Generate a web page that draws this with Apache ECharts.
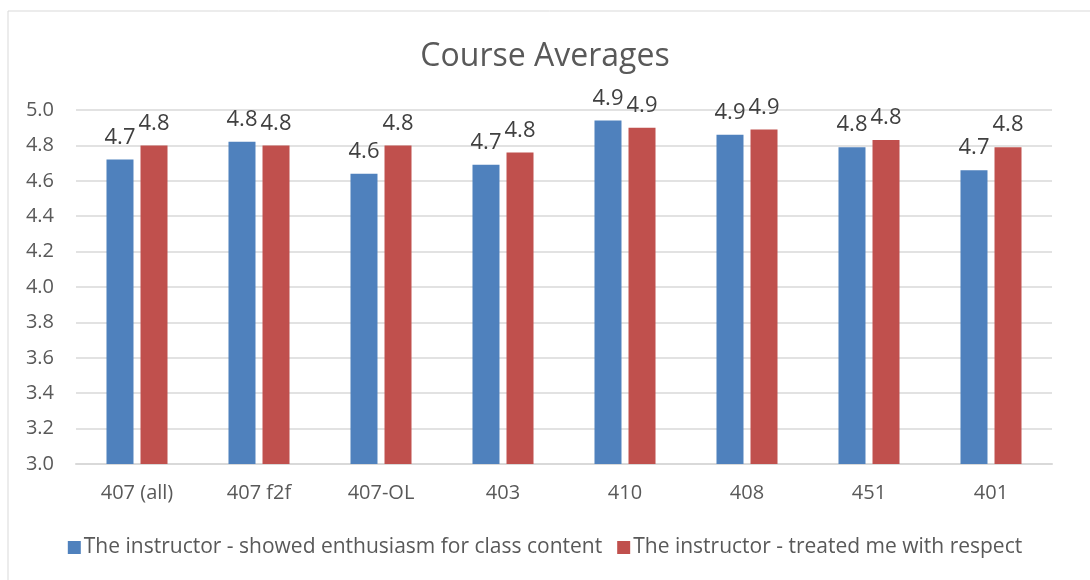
<!DOCTYPE html>
<html>
<head>
<meta charset="utf-8">
<style>
  html, body { margin: 0; padding: 0; background: #fff; }
  #main { width: 1090px; height: 580px; }
</style>
<script src="https://cdn.jsdelivr.net/npm/echarts@6/dist/echarts.min.js"></script>
</head>
<body>
<div id="main"></div>
<script>
// 课程名称
var categories = ['407 (all)', '407 f2f', '407-OL', '403', '410', '408', '451', '401'];
// 两个系列的平均分
var enthusiasm = [4.72, 4.82, 4.64, 4.69, 4.94, 4.86, 4.79, 4.66];
var respect = [4.80, 4.80, 4.80, 4.76, 4.90, 4.89, 4.83, 4.79];
var seriesNames = [
    'The instructor - showed enthusiasm for class content',
    'The instructor - treated me with respect'
];

var font = '"Open Sans", "Liberation Sans", sans-serif';
var myChart = echarts.init(document.getElementById('main'));

var labelStyle = {
    show: true,
    position: 'top',
    distance: 11,
    color: '#404040',
    fontFamily: font,
    fontSize: 22,
    formatter: function (p) { return p.value.toFixed(1); }
};

var option = {
    animation: false,
    color: ['#4F81BD', '#C0504D'],
    // 外框
    graphic: [{
        type: 'rect',
        shape: { x: 8, y: 11, width: 1100, height: 600 },
        style: { fill: 'none', stroke: '#d9d9d9', lineWidth: 1 },
        silent: true
    }],
    title: {
        text: 'Course Averages',
        left: 'center',
        top: 36,
        textStyle: { color: '#595959', fontFamily: font, fontSize: 32, fontWeight: 'normal' }
    },
    legend: {
        data: seriesNames,
        bottom: 17,
        left: 'center',
        itemWidth: 13,
        itemHeight: 13,
        itemGap: 15,
        icon: 'rect',
        textStyle: { color: '#595959', fontFamily: font, fontSize: 21, padding: [0, 0, 0, -2] }
    },
    grid: { left: 76, right: 38, top: 110, bottom: 116, containLabel: false },
    xAxis: {
        type: 'category',
        data: categories,
        axisTick: { show: false },
        axisLine: { lineStyle: { color: '#d9d9d9', width: 2 } },
        axisLabel: { color: '#595959', fontFamily: font, fontSize: 20, margin: 19 }
    },
    yAxis: {
        type: 'value',
        min: 3.0,
        max: 5.0,
        interval: 0.2,
        axisLine: { show: false },
        axisTick: { show: false },
        splitLine: { lineStyle: { color: '#d9d9d9', width: 1.5 } },
        axisLabel: {
            color: '#595959', fontFamily: font, fontSize: 20, margin: 22,
            formatter: function (v) { return v.toFixed(1); }
        }
    },
    series: [
        {
            name: seriesNames[0],
            type: 'bar',
            barWidth: 27,
            barGap: '26%',
            itemStyle: { color: '#4F81BD' },
            label: labelStyle,
            data: enthusiasm
        },
        {
            name: seriesNames[1],
            type: 'bar',
            barWidth: 27,
            barGap: '26%',
            itemStyle: { color: '#C0504D' },
            label: labelStyle,
            data: respect
        }
    ]
};

myChart.setOption(option);
</script>
</body>
</html>
